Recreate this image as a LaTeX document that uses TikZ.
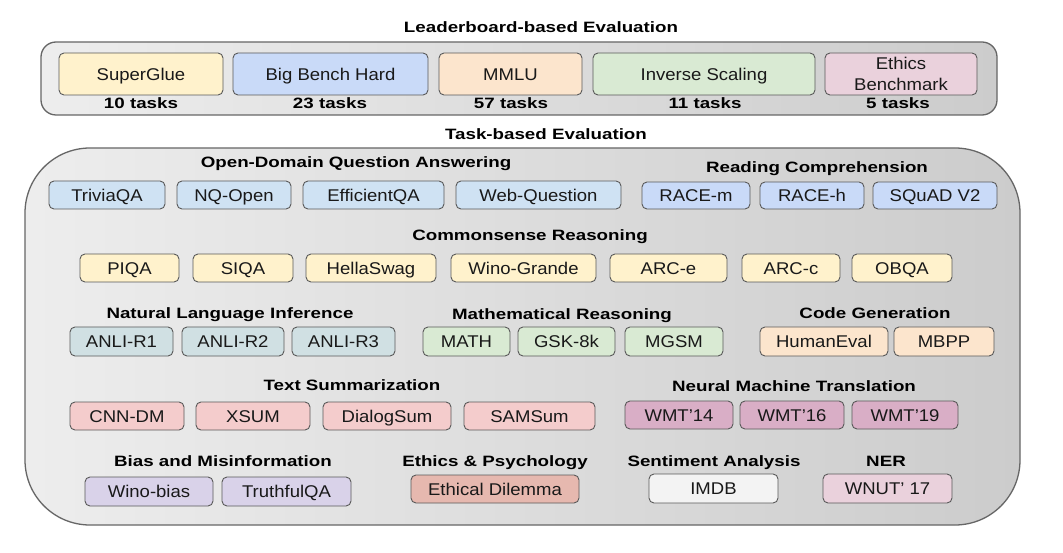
\documentclass[tikz,border=0pt]{standalone}
\usepackage{fontspec}
\setmainfont{Liberation Sans}[FakeStretch=1.09]
\newfontfamily\hdfont{Liberation Sans}[FakeStretch=1.25]
\definecolor{cyel}{HTML}{FFF2CC}
\definecolor{cblu}{HTML}{C9DAF8}
\definecolor{corg}{HTML}{FCE5CD}
\definecolor{cgrn}{HTML}{D9EAD3}
\definecolor{cpnk}{HTML}{EAD1DC}
\definecolor{clblu}{HTML}{CFE2F3}
\definecolor{cteal}{HTML}{D0E0E3}
\definecolor{cred}{HTML}{F4CCCC}
\definecolor{cmauve}{HTML}{D9AEC6}
\definecolor{cpurp}{HTML}{D9D2E9}
\definecolor{crose}{HTML}{E6B8AF}
\definecolor{cwht}{HTML}{F3F3F3}
\tikzset{
  bx/.style={draw=black!65, line width=0.9pt, rounded corners=5pt, inner sep=0pt,
    font=\fontsize{17}{20}\selectfont, text=black!90, text height=12.2pt, text depth=0pt},
  hd/.style={font=\hdfont\bfseries\fontsize{15}{17}\selectfont, inner sep=0pt,
    text=black, text height=10.8pt, text depth=0pt},
  panel/.style={draw=black!60, line width=1.3pt, left color=black!7, right color=black!20, inner sep=0pt}
}
\newcommand\tbox[7]{\node[bx,fill=#6,minimum width={(#3)-(#2)},minimum height={(#5)-(#4)}] (#1) at ({((#2)+(#3))/2},{((#4)+(#5))/2}) {#7};}
\begin{document}
\begin{tikzpicture}[x=1pt,y=-1pt]
\path[use as bounding box, fill=white] (0,0) rectangle (1063,553);
% Leaderboard panel
\node[panel, rounded corners=15pt, minimum width=956pt, minimum height=73pt] (lbpanel) at (519,78.5) {};
\node[hd] (lbtitle) at (541,27) {Leaderboard-based Evaluation};
\tbox{sg}{59}{223}{53}{95}{cyel}{SuperGlue}
\tbox{bbh}{233}{428}{53}{95}{cblu}{Big Bench Hard}
\tbox{mmlu}{439}{582}{53}{95}{corg}{MMLU}
\tbox{is}{593}{815}{53}{95}{cgrn}{Inverse Scaling}
\node[draw=black!65, line width=0.9pt, rounded corners=5pt, inner sep=0pt, fill=cpnk,
  minimum width=152pt, minimum height=42pt, align=center,
  font=\fontsize{17}{20.5}\selectfont, text=black!90] (eb) at (901,74) {Ethics\\Benchmark};
\node[hd] (t1) at (141,103) {10 tasks};
\node[hd] (t2) at (330,103) {23 tasks};
\node[hd] (t3) at (511,103) {57 tasks};
\node[hd] (t4) at (705,103) {11 tasks};
\node[hd] (t5) at (898,103) {5 tasks};
% Task panel
\node[hd] (tbtitle) at (546,134) {Task-based Evaluation};
\node[panel, rounded corners=65pt, minimum width=995pt, minimum height=377pt] (tbpanel) at (522.5,336.5) {};
% Row 1
\node[hd] (hodqa) at (356,162) {Open-Domain Question Answering};
\node[hd] (hrc) at (817,167) {Reading Comprehension};
\tbox{trivia}{49}{165}{181}{209}{clblu}{TriviaQA}
\tbox{nq}{177}{291}{181}{209}{clblu}{NQ-Open}
\tbox{eqa}{303}{444}{181}{209}{clblu}{EfficientQA}
\tbox{webq}{456}{621}{181}{209}{clblu}{Web-Question}
\tbox{racem}{642}{750}{182}{209}{cblu}{RACE-m}
\tbox{raceh}{760}{864}{182}{209}{cblu}{RACE-h}
\tbox{squad}{873}{997}{182}{209}{cblu}{SQuAD V2}
% Row 2
\node[hd] (hcr) at (530,235) {Commonsense Reasoning};
\tbox{piqa}{80}{179}{254}{282}{cyel}{PIQA}
\tbox{siqa}{193}{293}{254}{282}{cyel}{SIQA}
\tbox{hella}{306}{436}{254}{282}{cyel}{HellaSwag}
\tbox{wino}{451}{596}{254}{282}{cyel}{Wino-Grande}
\tbox{arce}{610}{727}{254}{282}{cyel}{ARC-e}
\tbox{arcc}{742}{840}{254}{282}{cyel}{ARC-c}
\tbox{obqa}{852}{952}{254}{282}{cyel}{OBQA}
% Row 3
\node[hd] (hnli) at (230,313) {Natural Language Inference};
\node[hd] (hmr) at (562,314) {Mathematical Reasoning};
\node[hd] (hcg) at (875,313) {Code Generation};
\tbox{anli1}{70}{173}{327}{356}{cteal}{ANLI-R1}
\tbox{anli2}{182}{284}{327}{356}{cteal}{ANLI-R2}
\tbox{anli3}{292}{395}{327}{356}{cteal}{ANLI-R3}
\tbox{math}{423}{510}{327}{356}{cgrn}{MATH}
\tbox{gsk}{518}{615}{327}{356}{cgrn}{GSK-8k}
\tbox{mgsm}{625}{723}{327}{356}{cgrn}{MGSM}
\tbox{heval}{760}{888}{327}{356}{corg}{HumanEval}
\tbox{mbpp}{894}{994}{327}{356}{corg}{MBPP}
% Row 4
\node[hd] (hts) at (352,385) {Text Summarization};
\node[hd] (hnmt) at (794,386) {Neural Machine Translation};
\tbox{cnn}{70}{184}{402}{430}{cred}{CNN-DM}
\tbox{xsum}{196}{310}{402}{430}{cred}{XSUM}
\tbox{dsum}{323}{451}{402}{430}{cred}{DialogSum}
\tbox{samsum}{464}{595}{402}{430}{cred}{SAMSum}
\tbox{wmta}{625}{733}{401}{429}{cmauve}{WMT'14}
\tbox{wmtb}{740}{844}{401}{429}{cmauve}{WMT'16}
\tbox{wmtc}{852}{958}{401}{429}{cmauve}{WMT'19}
% Row 5
\node[hd] (hbm) at (223,461) {Bias and Misinformation};
\node[hd] (hep) at (495,461) {Ethics \& Psychology};
\node[hd] (hsa) at (714,461) {Sentiment Analysis};
\node[hd] (hner) at (886,461) {NER};
\tbox{wbias}{85}{213}{477}{506}{cpurp}{Wino-bias}
\tbox{tqa}{222}{351}{477}{506}{cpurp}{TruthfulQA}
\tbox{ethd}{411}{579}{475}{503}{crose}{Ethical Dilemma}
\tbox{imdb}{649}{778}{474}{503}{cwht}{IMDB}
\tbox{wnut}{823}{952}{474}{503}{cpnk}{WNUT' 17}
\end{tikzpicture}
\end{document}
